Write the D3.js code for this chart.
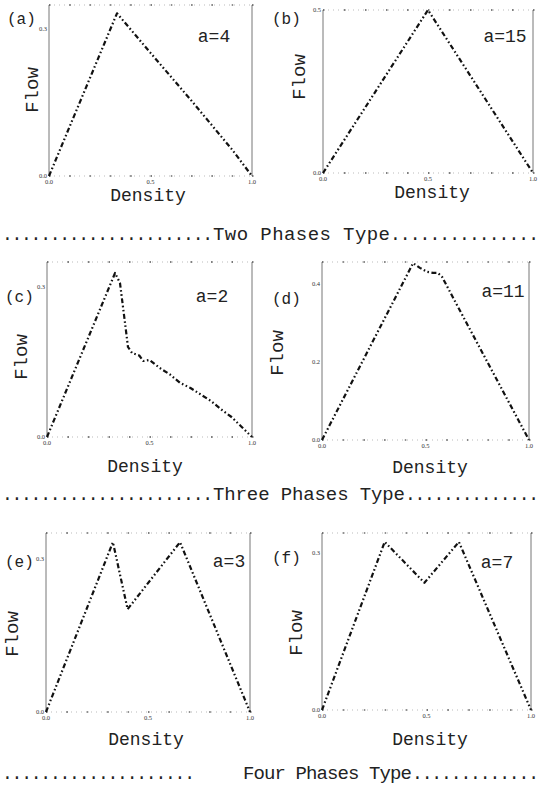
<!DOCTYPE html>
<html>
<head>
<meta charset="utf-8">
<script src="https://cdn.jsdelivr.net/npm/d3@7"></script>
<style>
  html, body { margin: 0; padding: 0; background: #fff; }
  svg { display: block; }
  text { font-family: "Liberation Mono", "DejaVu Sans Mono", monospace; fill: #222; }
  .tick { font-family: "Liberation Serif", serif; font-size: 6.5px; fill: #333; }
</style>
</head>
<body>
<svg id="chart" width="541" height="788"></svg>
<script>
// ---------------- data ----------------
const panelIds   = ["a", "b", "c", "d", "e", "f"];
const aValues    = [4, 15, 2, 11, 3, 7];
const phaseTypes = ["Two Phases Type", "Three Phases Type", "Four Phases Type"];
const xTickVals  = [0.0, 0.5, 1.0];
const yTickVals  = [[0.0, 0.3], [0.0, 0.5], [0.0, 0.3], [0.0, 0.2, 0.4], [0.0, 0.3], [0.0, 0.3]];
const yMaxVals   = [0.35, 0.5, 0.35, 0.455, 0.35, 0.338];

const densA = [0, 0.335, 0.50, 0.70, 0.90, 1.0];
const flowA = [0, 0.333, 0.252, 0.155, 0.055, 0];

const densB = [0, 0.5, 1.0];
const flowB = [0, 0.5, 0];

const densC = [0, 0.332, 0.356, 0.38, 0.395, 0.415, 0.45, 0.47, 0.50, 0.55, 0.60, 0.65, 0.70, 0.75, 0.80, 0.85, 0.90, 0.95, 1.0];
const flowC = [0, 0.328, 0.308, 0.230, 0.180, 0.168, 0.163, 0.152, 0.154, 0.138, 0.125, 0.108, 0.098, 0.085, 0.072, 0.055, 0.040, 0.020, 0];

const densD = [0, 0.44, 0.473, 0.507, 0.536, 0.56, 0.58, 0.652, 1.0];
const flowD = [0, 0.452, 0.440, 0.430, 0.427, 0.427, 0.417, 0.345, 0];

const densE = [0, 0.328, 0.40, 0.657, 1.0];
const flowE = [0, 0.332, 0.201, 0.332, 0];

const densF = [0, 0.30, 0.49, 0.655, 1.0];
const flowF = [0, 0.321, 0.243, 0.321, 0];

const densities = [densA, densB, densC, densD, densE, densF];
const flows     = [flowA, flowB, flowC, flowD, flowE, flowF];

// ---------------- layout ----------------
const layout = [
  {x0: 49,  x1: 252, y0: 5,   y1: 176, lab: [7, 24],    aLab: [214, 42],  flow: [33, 90],   dens: [148, 201]},
  {x0: 323, x1: 533, y0: 10,  y1: 173, lab: [272, 24],  aLab: [505, 42],  flow: [300, 77],  dens: [432, 198]},
  {x0: 47,  x1: 252, y0: 262, y1: 437, lab: [5, 302],   aLab: [212, 302], flow: [22, 357],  dens: [145, 472]},
  {x0: 322, x1: 529, y0: 262, y1: 440, lab: [272, 304], aLab: [503, 297], flow: [278, 353], dens: [430, 473]},
  {x0: 46,  x1: 250, y0: 533, y1: 712, lab: [5, 567],   aLab: [229, 567], flow: [13, 634],  dens: [146, 745]},
  {x0: 322, x1: 531, y0: 533, y1: 710, lab: [272, 563], aLab: [497, 568], flow: [297, 633], dens: [430, 745]}
];
const sepLayout = [
  {y: 240, leftEnd: 213, start: 213, end: 390, nl: 22, nr: 15},
  {y: 500, leftEnd: 213, start: 213, end: 405, nl: 22, nr: 14},
  {y: 779, leftEnd: 195, start: 243, end: 412, nl: 20, nr: 13}
];

const svg = d3.select("#chart");

panelIds.forEach((id, i) => {
  const L = layout[i];
  const x = d3.scaleLinear().domain([0, 1]).range([L.x0, L.x1]);
  const y = d3.scaleLinear().domain([0, yMaxVals[i]]).range([L.y1, L.y0]);
  const g = svg.append("g");

  // frame: solid sides, dotted top / bottom
  g.append("line").attr("x1", L.x0).attr("x2", L.x0).attr("y1", L.y0).attr("y2", L.y1)
    .attr("stroke", "#777").attr("stroke-width", 1);
  g.append("line").attr("x1", L.x1).attr("x2", L.x1).attr("y1", L.y0).attr("y2", L.y1)
    .attr("stroke", "#777").attr("stroke-width", 1);
  [L.y0, L.y1].forEach(yy => {
    g.append("line").attr("x1", L.x0).attr("x2", L.x1).attr("y1", yy).attr("y2", yy)
      .attr("stroke", "#aaa").attr("stroke-width", 0.8).attr("stroke-dasharray", "1,4");
    g.selectAll(null).data(d3.range(0, 1.0001, 0.1)).enter().append("line")
      .attr("x1", d => x(d)).attr("x2", d => x(d) + 1.5)
      .attr("y1", yy).attr("y2", yy)
      .attr("stroke", "#555").attr("stroke-width", 1.3);
  });

  // x tick labels
  g.selectAll(null).data(xTickVals).enter().append("text")
    .attr("class", "tick")
    .attr("x", d => x(d)).attr("y", L.y1 + 7.5)
    .attr("text-anchor", "middle")
    .text(d => d.toFixed(1));
  // y tick labels
  g.selectAll(null).data(yTickVals[i]).enter().append("text")
    .attr("class", "tick")
    .attr("x", L.x0 - 2).attr("y", d => y(d) + 2)
    .attr("text-anchor", "end")
    .text(d => d.toFixed(1));

  // curve
  const line = d3.line().x(d => x(d[0])).y(d => y(d[1]));
  const pts = densities[i].map((d, k) => [d, flows[i][k]]);
  g.append("path").datum(pts).attr("d", line)
    .attr("fill", "none").attr("stroke", "#111").attr("stroke-width", 2.2)
    .attr("stroke-dasharray", "5,2.5,1.6,2.5,1.6,2.5")
    .attr("stroke-linejoin", "round");

  // labels
  g.append("text").attr("x", L.lab[0]).attr("y", L.lab[1])
    .attr("font-size", 16).text("(" + id + ")");
  g.append("text").attr("x", L.aLab[0]).attr("y", L.aLab[1])
    .attr("text-anchor", "middle").attr("font-size", 18).text("a=" + aValues[i]);
  g.append("text")
    .attr("transform", `translate(${L.flow[0]},${L.flow[1]}) rotate(-90)`)
    .attr("text-anchor", "middle").attr("dominant-baseline", "central")
    .attr("font-size", 19).text("Flow");
  g.append("text").attr("x", L.dens[0]).attr("y", L.dens[1])
    .attr("text-anchor", "middle").attr("font-size", 18).text("Density");
});

// separators
phaseTypes.forEach((t, i) => {
  const S = sepLayout[i];
  svg.append("text").attr("x", 2).attr("y", S.y).attr("font-size", 18)
    .attr("textLength", S.leftEnd - 2).attr("lengthAdjust", "spacing")
    .text(".".repeat(S.nl));
  svg.append("text").attr("x", S.start).attr("y", S.y).attr("font-size", 19)
    .attr("textLength", S.end - S.start).attr("lengthAdjust", "spacing")
    .text(t);
  svg.append("text").attr("x", S.end).attr("y", S.y).attr("font-size", 18)
    .attr("textLength", 539 - S.end).attr("lengthAdjust", "spacing")
    .text(".".repeat(S.nr));
});
</script>
</body>
</html>
